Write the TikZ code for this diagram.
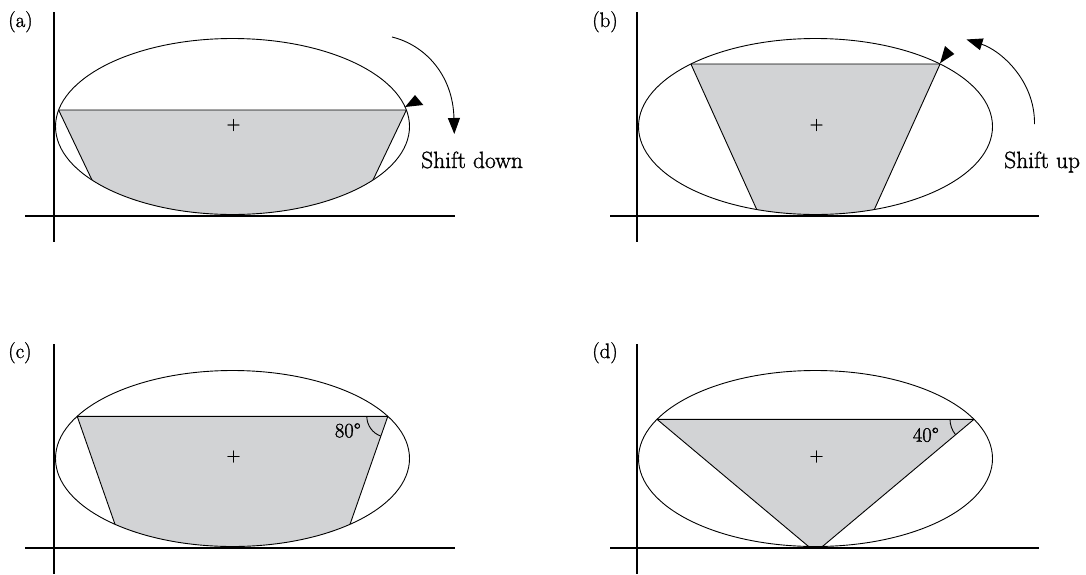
\documentclass[tikz,border=0pt]{standalone}
\usepackage{fontspec}
\setmainfont{Latin Modern Roman}[FakeBold=1.2]
\usetikzlibrary{calc,arrows.meta}
\definecolor{shade}{RGB}{210,211,213}
\tikzset{
  axisline/.style={line width=2pt},
  oval/.style={line width=0.9pt},
  edgeline/.style={line width=0.9pt},
  fillarea/.style={fill=shade, draw=black, line width=0.9pt},
  rotarrow/.style={line width=0.9pt, -{Triangle[length=16pt,width=12pt]}},
  marker/.style={fill=black},
  lab/.style={font=\fontsize{21}{24}\selectfont, inner sep=0pt},
  anglab/.style={font=\fontsize{20.5}{24}\selectfont, inner sep=0pt},
  shiftlab/.style={font=\fontsize{23.5}{27}\selectfont, inner sep=0pt},
  pluslab/.style={font=\fontsize{19}{21}\selectfont, inner sep=0pt},
}
\begin{document}
\begin{tikzpicture}[x=1pt,y=1pt,yscale=-1]
\useasboundingbox (0,0) rectangle (1086,574);
\fill[white] (0,0) rectangle (1086,574);

% ---------------- panel (a)
\coordinate (aC) at (232.5,126.5);
\coordinate (aTL) at (58.6,110);
\coordinate (aTR) at (406.4,110);
\coordinate (aBL) at (92,180);
\coordinate (aBR) at (373,180);
\begin{scope}
  \clip (aC) ellipse [x radius=177, y radius=88];
  \filldraw[fillarea] (aTL) -- (aTR) -- ($(aTR)!2!(aBR)$) -- ($(aTL)!2!(aBL)$) -- cycle;
\end{scope}
\draw[oval] (aC) ellipse [x radius=177, y radius=88];
\node[pluslab] (aplus) at (233.5,125) {+};
\coordinate (aS) at (392,37);
\coordinate (aE) at (454.3,134);
\draw[rotarrow] (aS) .. controls (425,45) and (453,75) .. (aE);
\coordinate (aK1) at (405,107);
\coordinate (aK2) at (415,95);
\coordinate (aK3) at (423.3,105);
\fill[marker] (aK1) -- (aK2) -- (aK3) -- cycle;
\node[shiftlab, anchor=base west] (ashift) at (421,168) {Shift down};
\node[lab, anchor=base west] (alab) at (8,27) {(a)};
\coordinate (aV1) at (54,12);
\coordinate (aV2) at (54,242);
\coordinate (aH1) at (25,216);
\coordinate (aH2) at (455,216);
\draw[axisline] (aV1) -- (aV2);
\draw[axisline] (aH1) -- (aH2);

% ---------------- panel (b)
\coordinate (bC) at (815.5,126.5);
\coordinate (bTL) at (690.9,64);
\coordinate (bTR) at (940.1,64);
\coordinate (bBL) at (756.7,209.5);
\coordinate (bBR) at (874.3,209.5);
\begin{scope}
  \clip (bC) ellipse [x radius=177, y radius=88];
  \filldraw[fillarea] (bTL) -- (bTR) -- ($(bTR)!2!(bBR)$) -- ($(bTL)!2!(bBL)$) -- cycle;
\end{scope}
\draw[oval] (bC) ellipse [x radius=177, y radius=88];
\node[pluslab] (bplus) at (816.5,125) {+};
\coordinate (bS) at (1034.5,124);
\coordinate (bE) at (966.5,39.5);
\draw[rotarrow] (bS) .. controls (1035,80) and (1000,50) .. (bE);
\coordinate (bK1) at (940,63.3);
\coordinate (bK2) at (945,46);
\coordinate (bK3) at (954.3,54);
\fill[marker] (bK1) -- (bK2) -- (bK3) -- cycle;
\node[shiftlab, anchor=base west] (bshift) at (1004,168) {Shift up};
\node[lab, anchor=base west] (blab) at (592,27) {(b)};
\coordinate (bV1) at (637,12);
\coordinate (bV2) at (637,242);
\coordinate (bH1) at (610,216);
\coordinate (bH2) at (1039,216);
\draw[axisline] (bV1) -- (bV2);
\draw[axisline] (bH1) -- (bH2);

% ---------------- panel (c)
\coordinate (cC) at (232.5,458.5);
\coordinate (cTL) at (77.2,416.3);
\coordinate (cTR) at (387.8,416.3);
\coordinate (cBL) at (115,524.3);
\coordinate (cBR) at (350,524.3);
\begin{scope}
  \clip (cC) ellipse [x radius=177, y radius=88];
  \filldraw[fillarea] (cTL) -- (cTR) -- ($(cTR)!2!(cBR)$) -- ($(cTL)!2!(cBL)$) -- cycle;
\end{scope}
\draw[oval] (cC) ellipse [x radius=177, y radius=88];
\node[pluslab] (cplus) at (233.5,456.5) {+};
\draw[edgeline] ($(cTR)+(-21,0)$) arc[start angle=180, end angle=109.3, radius=21];
\node[anglab, anchor=base east] (cang) at (361,437.3) {80°};
\node[lab, anchor=base west] (clab) at (8,358) {(c)};
\coordinate (cV1) at (54,344);
\coordinate (cV2) at (54,574);
\coordinate (cH1) at (25,548);
\coordinate (cH2) at (455,548);
\draw[axisline] (cV1) -- (cV2);
\draw[axisline] (cH1) -- (cH2);

% ---------------- panel (d)
\coordinate (dC) at (815.5,458.5);
\coordinate (dTL) at (657,419.3);
\coordinate (dTR) at (974,419.3);
\coordinate (dA) at (815.5,552.3);
\begin{scope}
  \clip (dC) ellipse [x radius=177, y radius=88];
  \filldraw[fillarea] (dTL) -- (dTR) -- (dA) -- cycle;
\end{scope}
\draw[oval] (dC) ellipse [x radius=177, y radius=88];
\node[pluslab] (dplus) at (816.5,456.5) {+};
\draw[edgeline] ($(dTR)+(-24,0)$) arc[start angle=180, end angle=140, radius=24];
\node[anglab, anchor=base west] (dang) at (912.7,441.7) {40°};
\node[lab, anchor=base west] (dlab) at (592,358) {(d)};
\coordinate (dV1) at (637,344);
\coordinate (dV2) at (637,574);
\coordinate (dH1) at (610,548);
\coordinate (dH2) at (1039,548);
\draw[axisline] (dV1) -- (dV2);
\draw[axisline] (dH1) -- (dH2);
\end{tikzpicture}
\end{document}
